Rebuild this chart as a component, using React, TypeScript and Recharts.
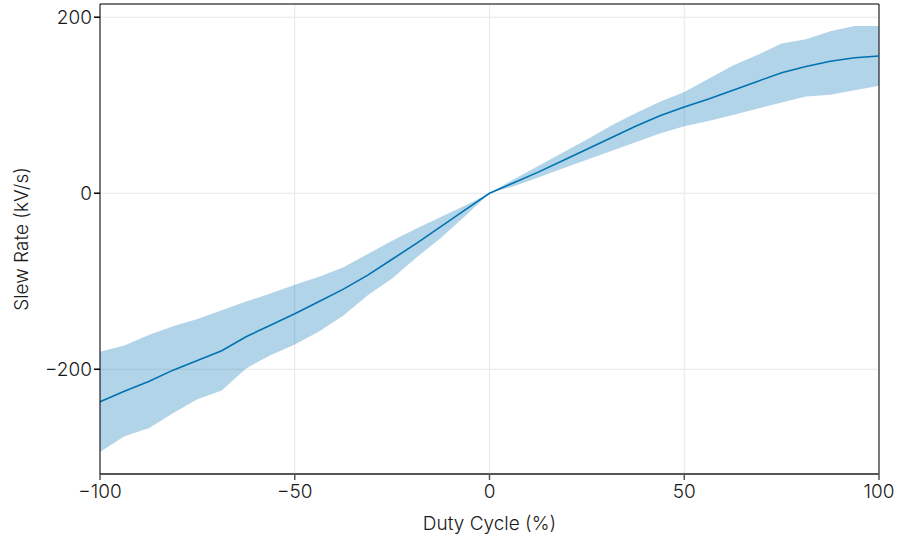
import React from 'react';
import {
  ComposedChart,
  Area,
  Line,
  XAxis,
  YAxis,
  CartesianGrid,
  ReferenceLine,
} from 'recharts';

// duty cycle sample points (%)
const dutyCycle = [
  -100, -93.75, -87.5, -81.25, -75, -68.75, -62.5, -56.25, -50, -43.75, -37.5,
  -31.25, -25, -18.75, -12.5, -6.25, 0, 6.25, 12.5, 18.75, 25, 31.25, 37.5,
  43.75, 50, 56.25, 62.5, 68.75, 75, 81.25, 87.5, 93.75, 100,
];

// mean slew rate (kV/s)
const slewMean = [
  -237, -225, -214, -201, -190, -179, -163, -150, -137, -123, -109, -93, -75,
  -57, -38, -19, 0, 12, 24, 37, 50, 63, 76, 88, 98, 107, 117, 127, 137, 144,
  150, 154, 156,
];

// band limits
const slewUpper = [
  -180, -173, -161, -151, -143, -133, -123, -114, -104, -95, -84, -69, -54,
  -40, -27, -14, 0, 16, 31, 46, 61, 77, 91, 104, 115, 130, 145, 157, 170, 175,
  184, 190, 190,
];
const slewLower = [
  -294, -276, -267, -250, -234, -224, -199, -184, -172, -157, -139, -116, -97,
  -73, -51, -26, 0, 8, 18, 28, 38, 48, 58, 68, 76, 82, 89, 96, 103, 110, 112,
  117, 122,
];

const xTicks = [-100, -50, 0, 50, 100];
const yTicks = [-200, 0, 200];

const data = dutyCycle.map((d, i) => ({
  duty: d,
  mean: slewMean[i],
  band: [slewLower[i], slewUpper[i]],
}));

const FONT = 'Inter, "Noto Sans", sans-serif';
const TEXT = { fill: '#1a1a1a', fontSize: 19, fontFamily: FONT, fontWeight: 300 };
const fmt = (v: number) => (v < 0 ? `\u2212${Math.abs(v)}` : `${v}`);

export default function App() {
  return (
    <div style={{ position: 'absolute', left: 0, top: 0, fontFamily: FONT }}>
      <ComposedChart
        width={898}
        height={539}
        data={data}
        margin={{ top: 4, right: 19, bottom: 5, left: 0 }}
      >
        <CartesianGrid stroke="#e6e6e6" strokeWidth={1} />
        <XAxis
          dataKey="duty"
          type="number"
          domain={[-100, 100]}
          ticks={xTicks}
          tickFormatter={fmt}
          height={60}
          axisLine={{ stroke: '#555', strokeWidth: 2 }}
          tickLine={{ stroke: '#555', strokeWidth: 1.5 }}
          tickSize={6}
          tickMargin={5}
          tick={TEXT}
          label={{ value: 'Duty Cycle (%)', position: 'insideBottom', offset: 4, ...TEXT }}
        />
        <YAxis
          type="number"
          domain={[-319, 215]}
          ticks={yTicks}
          tickFormatter={fmt}
          width={100}
          allowDataOverflow
          axisLine={{ stroke: '#000', strokeWidth: 1 }}
          tickLine={{ stroke: '#000', strokeWidth: 1.5 }}
          tickSize={6}
          tick={TEXT}
          label={{
            value: 'Slew Rate (kV/s)',
            angle: -90,
            position: 'center',
            dx: -29,
            ...TEXT,
          }}
        />
        <ReferenceLine y={215} stroke="#000" strokeWidth={1} ifOverflow="extendDomain" />
        <ReferenceLine x={100} stroke="#000" strokeWidth={1} ifOverflow="extendDomain" />
        <Area
          dataKey="band"
          type="linear"
          stroke="none"
          fill="#0072B2"
          fillOpacity={0.3}
          isAnimationActive={false}
        />
        <Line
          dataKey="mean"
          type="linear"
          stroke="#0072B2"
          strokeWidth={1.6}
          dot={false}
          isAnimationActive={false}
        />
      </ComposedChart>
    </div>
  );
}
